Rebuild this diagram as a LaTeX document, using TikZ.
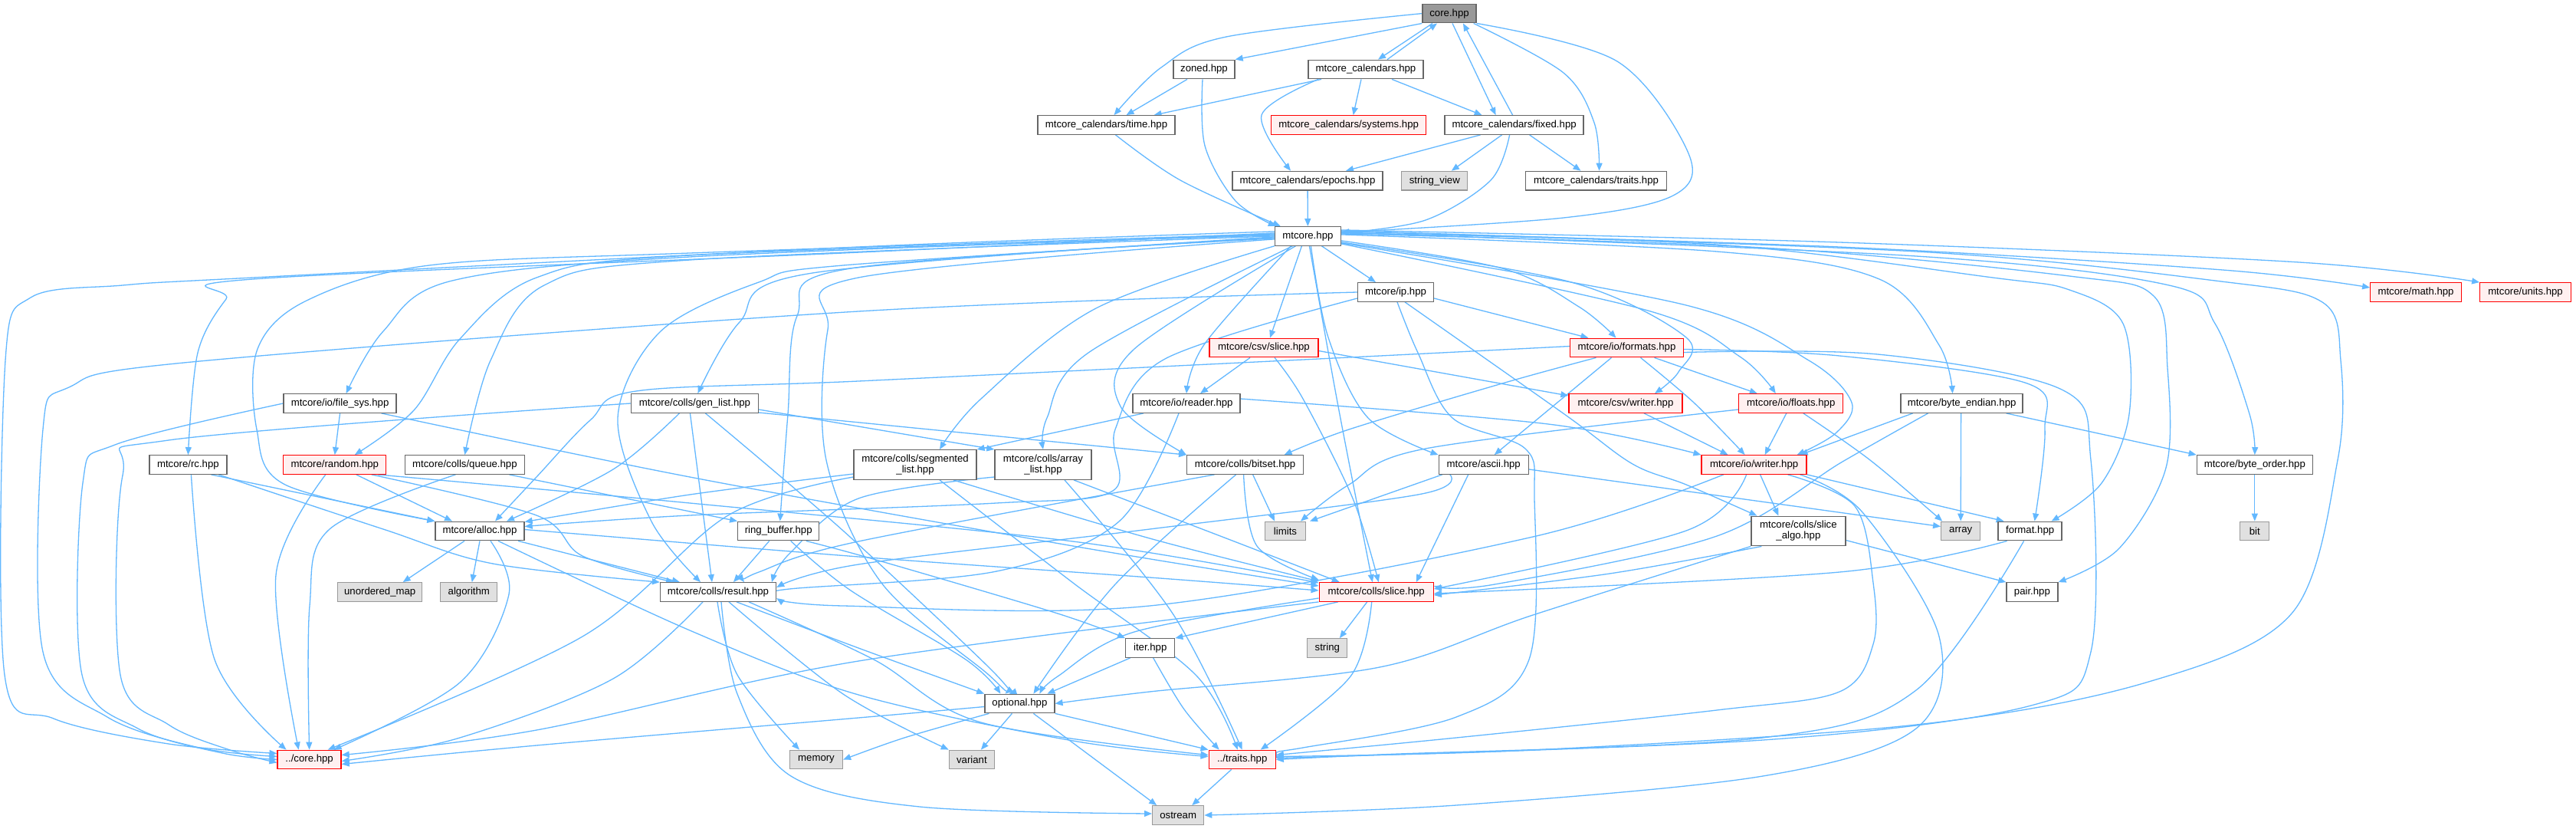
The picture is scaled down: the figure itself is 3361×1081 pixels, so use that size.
\documentclass[tikz,border=0pt]{standalone}
\usepackage{fontspec}
\setmainfont{Liberation Sans}
\usetikzlibrary{arrows.meta}
\definecolor{edgec}{HTML}{63B8FF}
\definecolor{bordc}{HTML}{666666}
\definecolor{extb}{HTML}{999999}
\definecolor{extf}{HTML}{E0E0E0}
\definecolor{redf}{HTML}{FFF0F0}
\definecolor{rootf}{HTML}{999999}
\pgfdeclarelayer{bg}
\pgfsetlayers{bg,main}
\begin{document}
\begin{tikzpicture}[x=0.5pt,y=-0.5pt,
 nbox/.style={draw=bordc, fill=white, line width=0.65pt, inner sep=0pt, minimum height=12.25pt, font=\fontsize{6.6}{7}\selectfont, align=center, text=black},
 redbox/.style={nbox, draw=red, fill=redf},
 extbox/.style={nbox, draw=extb, fill=extf},
 twol/.style={minimum height=19.3pt},
 lnk/.style={draw=edgec, line width=0.65pt, -{Triangle[length=5pt,width=4pt]}},
 sm/.style={smooth, tension=0.55}]
\useasboundingbox (0,0) rectangle (3361,1081);
% ---------- nodes ----------
\node[nbox,fill=rootf,minimum width=35pt] (core) at (1891,17.6) {core.hpp};
\node[nbox,minimum width=40pt] (zoned) at (1571,90.5) {zoned.hpp};
\node[nbox,minimum width=75pt] (cal) at (1782,90.5) {mtcore\_calendars.hpp};
\node[nbox,minimum width=89.5pt] (ctime) at (1443.5,163) {mtcore\_calendars/time.hpp};
\node[redbox,minimum width=101pt] (csys) at (1759.6,163) {mtcore\_calendars/systems.hpp};
\node[nbox,minimum width=90.5pt] (cfixed) at (1975.6,163) {mtcore\_calendars/fixed.hpp};
\node[nbox,minimum width=98pt] (cepochs) at (1706,235.6) {mtcore\_calendars/epochs.hpp};
\node[extbox,minimum width=43pt] (strview) at (1871.8,235.6) {string\_view};
\node[nbox,minimum width=92pt] (ctraits) at (2082.5,235.6) {mtcore\_calendars/traits.hpp};
\node[nbox,minimum width=43pt] (mtc) at (1706.4,307.9) {mtcore.hpp};
\node[nbox,minimum width=49.5pt] (ip) at (1821,381) {mtcore/ip.hpp};
\node[redbox,minimum width=59.25pt] (math) at (3152,381) {mtcore/math.hpp};
\node[redbox,minimum width=59.25pt] (units) at (3295,381) {mtcore/units.hpp};
\node[redbox,minimum width=71pt] (cslice) at (1649,453.5) {mtcore/csv/slice.hpp};
\node[redbox,minimum width=74pt] (formats) at (2122.5,453.5) {mtcore/io/formats.hpp};
\node[nbox,minimum width=70pt] (reader) at (1548,526) {mtcore/io/reader.hpp};
\node[redbox,minimum width=74pt] (cwriter) at (2121,526) {mtcore/csv/writer.hpp};
\node[redbox,minimum width=68pt] (floats) at (2336.8,526) {mtcore/io/floats.hpp};
\node[nbox,minimum width=79.5pt] (bendian) at (2559.6,526) {mtcore/byte\_endian.hpp};
\node[nbox,minimum width=73.5pt] (filesys) at (443.6,526) {mtcore/io/file\_sys.hpp};
\node[nbox,minimum width=83pt] (genlist) at (906.4,526) {mtcore/colls/gen\_list.hpp};
\node[nbox,minimum width=50.5pt] (rc) at (245.4,606) {mtcore/rc.hpp};
\node[redbox,minimum width=67pt] (random) at (436.8,606) {mtcore/random.hpp};
\node[nbox,minimum width=78pt] (queue) at (606.4,606) {mtcore/colls/queue.hpp};
\node[nbox,twol,minimum width=80pt] (seglist) at (1194,606) {mtcore/colls/segmented\\\_list.hpp};
\node[nbox,twol,minimum width=63pt] (arrlist) at (1361,606) {mtcore/colls/array\\\_list.hpp};
\node[nbox,minimum width=76pt] (bitset) at (1624.6,606) {mtcore/colls/bitset.hpp};
\node[nbox,minimum width=58.5pt] (ascii) at (1935.7,606) {mtcore/ascii.hpp};
\node[redbox,minimum width=68.5pt] (writer) at (2288.6,606) {mtcore/io/writer.hpp};
\node[nbox,minimum width=75.5pt] (border) at (2941.8,606) {mtcore/byte\_order.hpp};
\node[nbox,minimum width=58pt] (alloc) at (626,692.5) {mtcore/alloc.hpp};
\node[nbox,minimum width=53pt] (ringbuf) at (1015.7,692.5) {ring\_buffer.hpp};
\node[extbox,minimum width=26.5pt] (limits) at (1677,692.5) {limits};
\node[nbox,twol,minimum width=61.5pt] (salgo) at (2346.4,692.5) {mtcore/colls/slice\\\_algo.hpp};
\node[extbox,minimum width=25.5pt] (array) at (2558.2,692.5) {array};
\node[nbox,minimum width=41.5pt] (fmt) at (2648.6,692.5) {format.hpp};
\node[extbox,minimum width=19pt] (bit) at (2941.8,692.5) {bit};
\node[extbox,minimum width=55pt] (umap) at (495.7,772) {unordered\_map};
\node[extbox,minimum width=37pt] (algo) at (611.8,772) {algorithm};
\node[nbox,minimum width=75.5pt] (result) at (937,772) {mtcore/colls/result.hpp};
\node[redbox,minimum width=74.5pt] (slice) at (1795.7,772) {mtcore/colls/slice.hpp};
\node[nbox,minimum width=33.5pt] (pair) at (2651.4,772) {pair.hpp};
\node[nbox,minimum width=32pt] (iter) at (1500.7,845) {iter.hpp};
\node[extbox,minimum width=26pt] (string) at (1731.8,845) {string};
\node[nbox,minimum width=45.5pt] (optional) at (1330.4,917.5) {optional.hpp};
\node[redbox,minimum width=41.5pt] (dcore) at (403.6,990.5) {../core.hpp};
\node[extbox,minimum width=34.5pt] (memory) at (1065,990.5) {memory};
\node[extbox,minimum width=29.5pt] (variant) at (1267.9,990.5) {variant};
\node[redbox,minimum width=43.5pt] (dtraits) at (1620.7,990.5) {../traits.hpp};
\node[extbox,minimum width=33.5pt] (ostream) at (1537.2,1063) {ostream};
% ---------- edges ----------
\begin{pgfonlayer}{bg}
\fill[white] (0,0) rectangle (3361,1081);
% top part
\draw[lnk] (core.south west) -- (zoned.north east);
\draw[lnk] plot[sm] coordinates {(core.west) (1600,48) (1515,88) ([xshift=5pt]ctime.north)};
\draw[lnk] ([xshift=-11pt]core.south) -- ([xshift=8pt]cal.north);
\draw[lnk] ([xshift=14pt]cal.north) -- ([xshift=-8pt]core.south);
\draw[lnk] ([xshift=2pt]core.south) -- ([xshift=-12pt]cfixed.north);
\draw[lnk] ([xshift=-1pt]cfixed.north) -- ([xshift=9pt]core.south);
\draw[lnk] plot[sm] coordinates {([xshift=-2pt]core.south east) (2040,95) (2080,160) ([xshift=2pt]ctraits.north)};
\draw[lnk] plot[sm] coordinates {(core.south east) (2110,80) (2203,200) (2183,255) (2040,284) ([yshift=2.5pt]mtc.east)};
\draw[lnk] ([xshift=-11pt]zoned.south) -- ([xshift=13pt]ctime.north);
\draw[lnk] plot[sm] coordinates {([xshift=-1pt]zoned.south) (1572,190) (1612,262) ([xshift=1pt]mtc.north west)};
\draw[lnk] plot[sm] coordinates {([xshift=6pt]ctime.south) (1540,235) ([xshift=4pt]mtc.north west)};
\draw[lnk] ([xshift=-29pt]cal.south) -- ([xshift=31pt]ctime.north);
\draw[lnk] ([xshift=-3pt]cal.south) -- ([xshift=3pt]csys.north);
\draw[lnk] ([xshift=17pt]cal.south) -- ([xshift=-21pt]cfixed.north);
\draw[lnk] plot[sm] coordinates {([xshift=-31pt]cal.south) (1646,150) ([xshift=-11pt]cepochs.north)};
\draw[lnk] ([xshift=-22pt]cfixed.south) -- ([xshift=25pt]cepochs.north);
\draw[lnk] ([xshift=-8pt]cfixed.south) -- ([xshift=11pt]strview.north);
\draw[lnk] ([xshift=10pt]cfixed.south) -- ([xshift=-10pt]ctraits.north);
\draw[lnk] plot[sm] coordinates {([xshift=-3pt]cfixed.south) (1945,235) (1860,287) ([yshift=2pt]mtc.east)};
\draw[lnk] (cepochs) -- (mtc);
% mtcore.hpp outgoing
\draw[lnk] ([xshift=9pt]mtc.south) -- ([xshift=-13pt]ip.north);
\draw[lnk] ([xshift=-4pt]mtc.south) -- ([xshift=4pt]cslice.north);
\draw[lnk] plot[sm] coordinates {([xshift=-11pt]mtc.south) (1572,448) (reader.north)};
\draw[lnk] plot[sm] coordinates {([yshift=-3pt]mtc.east) (1960,350) (2060,400) ([xshift=-7pt]formats.north)};
\draw[lnk] plot[sm] coordinates {([yshift=-4pt]mtc.east) (2050,368) (2200,440) (2190,485) ([xshift=19pt]cwriter.north)};
\draw[lnk] plot[sm] coordinates {([yshift=-5pt]mtc.east) (2150,405) (2270,465) ([xshift=-10pt]floats.north)};
\draw[lnk] plot[sm] coordinates {([yshift=-4.5pt]mtc.east) (2200,398) (2360,470) (2416,525) (2395,565) ([xshift=28pt]writer.north)};
\draw[lnk] plot[sm] coordinates {([xshift=2pt]mtc.south) (1733,440) (1785,545) (ascii.north west)};
\draw[lnk] plot[sm] coordinates {([xshift=1pt]mtc.south) (1746,530) ([xshift=-2.5pt]slice.north)};
\draw[lnk] plot[sm] coordinates {([xshift=-8pt]mtc.south) (1480,455) (1462,530) (bitset.north west)};
\draw[lnk] plot[sm] coordinates {([xshift=-10pt]mtc.south) (1420,460) (1366,545) (arrlist.north)};
\draw[lnk] plot[sm] coordinates {(mtc.south west) (1430,402) (1280,520) ([xshift=16pt]seglist.north)};
\draw[lnk] plot[sm] coordinates {([yshift=3pt]mtc.west) (1120,322) (330,362) (160,372) (40,388) (7,470) (6,880) (70,937) (220,970) ([yshift=4pt]dcore.west)};
\draw[lnk] plot[sm] coordinates {([yshift=2pt]mtc.west) (1100,330) (330,364) (295,390) (258,460) (rc.north)};
\draw[lnk] plot[sm] coordinates {([yshift=1.5pt]mtc.west) (900,330) (560,346) (400,392) (336,455) (335,560) (372,632) (alloc.north west)};
\draw[lnk] plot[sm] coordinates {([yshift=1pt]mtc.west) (900,335) (590,366) (500,432) ([xshift=4pt]filesys.north)};
\draw[lnk] plot[sm] coordinates {([yshift=0.5pt]mtc.west) (900,333) (700,362) (600,442) (540,535) ([xshift=13pt]random.north)};
\draw[lnk] plot[sm] coordinates {(mtc.west) (900,339) (710,372) (640,470) (queue.north)};
\draw[lnk] plot[sm] coordinates {([yshift=-0.5pt]mtc.west) (1060,356) (965,420) ([xshift=2pt]genlist.north)};
\draw[lnk] plot[sm] coordinates {([yshift=-1pt]mtc.west) (1100,346) (990,368) (862,432) (806,545) (850,680) ([xshift=-11.5pt]result.north)};
\draw[lnk] plot[sm] coordinates {([yshift=-1.5pt]mtc.west) (1110,350) (1040,412) (1028,540) ([xshift=1pt]ringbuf.north)};
\draw[lnk] plot[sm] coordinates {([yshift=-2pt]mtc.west) (1120,362) (1080,430) (1078,600) (1150,760) (1290,880) ([xshift=-9.5pt]optional.north)};
\draw[lnk] plot[sm] coordinates {([yshift=3pt]mtc.east) (2400,322) (2900,352) ([yshift=3pt]math.west)};
\draw[lnk] plot[sm] coordinates {([yshift=4pt]mtc.east) (2400,316) (3000,342) (units.north west)};
\draw[lnk] plot[sm] coordinates {([yshift=1pt]mtc.east) (2240,328) (2452,364) (2530,450) ([xshift=-6pt]bendian.north)};
\draw[lnk] plot[sm] coordinates {([yshift=2pt]mtc.east) (2240,319) (2600,362) (2700,378) (2770,422) (2778,540) (2742,630) ([xshift=14pt]fmt.north)};
\draw[lnk] plot[sm] coordinates {([yshift=1.5pt]mtc.east) (2300,323) (2700,360) (2810,386) (2828,480) (2826,610) (2765,715) (pair.north east)};
\draw[lnk] plot[sm] coordinates {([yshift=2.5pt]mtc.east) (2500,334) (2830,372) (2890,422) (2935,540) (border.north)};
\draw[lnk] plot[sm] coordinates {([yshift=3.5pt]mtc.east) (2500,328) (2890,366) (3030,394) (3054,470) (3050,600) (2990,800) (2800,890) (2500,945) (2000,978) ([yshift=2pt]dtraits.east)};
% ip
\draw[lnk] plot[sm] coordinates {(ip.west) (1120,406) (250,472) (90,505) (56,560) (56,850) (140,935) (260,975) ([yshift=2pt]dcore.west)};
\draw[lnk] plot[sm] coordinates {([yshift=-4pt]ip.west) (1520,468) (1455,560) (1452,640) (1300,656) (900,672) ([yshift=3pt]alloc.east)};
\draw[lnk] ([yshift=-4pt]ip.east) -- ([xshift=-25pt]formats.north);
\draw[lnk] plot[sm] coordinates {([xshift=1pt]ip.south) (1850,460) (1895,545) (1990,585) (2002,650) (1995,860) (1900,935) (1700,975) (dtraits.north east)};
\draw[lnk] plot[sm] coordinates {([xshift=6pt]ip.south) (2041,540) (2130,605) (2200,632) ([xshift=-27pt]salgo.north)};
% csv/slice
\draw[lnk] ([xshift=-9pt]cslice.south) -- ([xshift=9pt]reader.north);
\draw[lnk] plot[sm] coordinates {([xshift=7pt]cslice.south) (1700,520) (1765,650) ([xshift=1.5pt]slice.north)};
\draw[lnk] ([yshift=-2pt]cslice.east) -- ([yshift=5pt]cwriter.west);
% formats
\draw[lnk] plot[sm] coordinates {([yshift=1pt]formats.west) (1700,469) (1120,497) (830,510) (770,548) (700,622) ([xshift=10pt]alloc.north)};
\draw[lnk] plot[sm] coordinates {([xshift=-20pt]formats.south) (1960,500) (1760,560) ([xshift=25.5pt]bitset.north)};
\draw[lnk] ([xshift=-10pt]formats.south) -- ([xshift=7pt]ascii.north);
\draw[lnk] plot[sm] coordinates {([xshift=9pt]formats.south) (2210,525) ([xshift=-6pt]writer.north)};
\draw[lnk] ([xshift=18pt]formats.south) -- ([xshift=-22pt]floats.north);
\draw[lnk] plot[sm] coordinates {([yshift=-1pt]formats.east) (2400,464) (2645,500) (2668,560) ([xshift=3pt]fmt.north)};
\draw[lnk] plot[sm] coordinates {([yshift=-3pt]formats.east) (2450,462) (2690,508) (2728,600) (2728,850) (2650,920) (2300,965) ([yshift=1pt]dtraits.east)};
% writers / floats / byte_endian
\draw[lnk] ([xshift=12pt]cwriter.south) -- ([xshift=-17pt]writer.north);
\draw[lnk] ([xshift=-3pt]floats.south) -- ([xshift=7pt]writer.north);
\draw[lnk] plot[sm] coordinates {([yshift=-4pt]floats.west) (1860,585) (1760,632) ([xshift=10pt]limits.north)};
\draw[lnk] plot[sm] coordinates {([xshift=8pt]floats.south) (2440,600) ([xshift=-12pt]array.north)};
\draw[lnk] ([xshift=-32pt]bendian.south) -- ([xshift=30pt]writer.north);
\draw[lnk] ([xshift=-0.5pt]bendian.south) -- (array.north);
\draw[lnk] ([xshift=29pt]bendian.south) -- (border.north west);
\draw[lnk] plot[sm] coordinates {([xshift=-22pt]bendian.south) (2404,602) (2240,699) (1950,762) ([yshift=4pt]slice.east)};
\draw[lnk] (border.south) -- (bit.north);
% file_sys / random / rc / queue / gen_list
\draw[lnk] plot[sm] coordinates {(filesys.west) (150,580) (108,630) (107,880) (180,950) (290,982) (dcore.west)};
\draw[lnk] (filesys.south) -- (random.north);
\draw[lnk] plot[sm] coordinates {([xshift=27pt]filesys.south) (900,622) (1400,712) ([yshift=4pt]slice.west)};
\draw[lnk] plot[sm] coordinates {([xshift=-6pt]random.south) (360,750) ([xshift=-7pt]dcore.north)};
\draw[lnk] ([xshift=14pt]random.south) -- ([xshift=-18pt]alloc.north);
\draw[lnk] plot[sm] coordinates {([xshift=24pt]random.south) (700,672) (760,725) ([xshift=-29pt]result.north)};
\draw[lnk] plot[sm] coordinates {([xshift=28pt]random.south) (900,656) (1400,706) ([yshift=6pt]slice.west)};
\draw[lnk] plot[sm] coordinates {([xshift=2pt]rc.south) (280,860) ([xshift=-15pt]dcore.north)};
\draw[lnk] ([xshift=15pt]rc.south) -- (alloc.north west);
\draw[lnk] plot[sm] coordinates {([xshift=20pt]rc.south) (500,690) (643,735) (result.north west)};
\draw[lnk] plot[sm] coordinates {([xshift=-6pt]queue.south) (430,690) (404,790) (dcore.north)};
\draw[lnk] ([xshift=29pt]queue.south) -- (ringbuf.north west);
\draw[lnk] plot[sm] coordinates {(genlist.west) (220,574) (160,620) (157,880) (220,945) (300,978) ([yshift=-2pt]dcore.west)};
\draw[lnk] plot[sm] coordinates {([xshift=-10pt]genlist.south) (800,612) ([xshift=17.5pt]alloc.north)};
\draw[lnk] ([xshift=-3pt]genlist.south) -- ([xshift=-4pt]result.north);
\draw[lnk] plot[sm] coordinates {([xshift=7pt]genlist.south) (1100,692) (1290,870) ([xshift=-7pt]optional.north)};
\draw[lnk] ([yshift=-4pt]genlist.east) -- (arrlist.north west);
\draw[lnk] ([yshift=-6pt]genlist.east) -- (bitset.north west);
% reader
\draw[lnk] ([xshift=-28pt]reader.south) -- (seglist.north east);
\draw[lnk] plot[sm] coordinates {([yshift=3pt]reader.east) (2020,553) (writer.north west)};
\draw[lnk] plot[sm] coordinates {([xshift=-5pt]reader.south) (1460,680) (1300,745) (1030,768) ([yshift=-2pt]result.east)};
% lists / bitset / ascii
\draw[lnk] plot[sm] coordinates {([yshift=-6pt]seglist.west) (900,645) ([yshift=6pt]alloc.east)};
\draw[lnk] plot[sm] coordinates {([xshift=25pt]seglist.south) (1500,702) ([yshift=7pt]slice.west)};
\draw[lnk] plot[sm] coordinates {([xshift=16pt]seglist.south) (1400,760) (1560,880) ([xshift=-3pt]dtraits.north)};
\draw[lnk] plot[sm] coordinates {([yshift=-8pt]seglist.west) (950,672) (760,830) ([xshift=12pt]dcore.north)};
\draw[lnk] plot[sm] coordinates {([xshift=20pt]arrlist.south) (1600,702) ([xshift=-24pt]slice.north)};
\draw[lnk] plot[sm] coordinates {([xshift=14pt]arrlist.south) (1530,800) (dtraits.north)};
\draw[lnk] plot[sm] coordinates {([yshift=-8pt]arrlist.west) (1120,650) (1030,722) ([xshift=35pt]result.north)};
\draw[lnk] plot[sm] coordinates {([xshift=-20pt]bitset.south) (1120,706) (990,746) ([xshift=17pt]result.north)};
\draw[lnk] plot[sm] coordinates {([xshift=-6pt]bitset.south) (1455,762) ([xshift=9pt]optional.north)};
\draw[lnk] plot[sm] coordinates {([xshift=-1pt]bitset.south) (1640,712) ([yshift=8pt]slice.west)};
\draw[lnk] ([xshift=5pt]bitset.south) -- ([xshift=-7pt]limits.north);
\draw[lnk] ([xshift=-27pt]ascii.south) -- ([xshift=16pt]limits.north);
\draw[lnk] ([xshift=-10pt]ascii.south) -- ([xshift=26pt]slice.north);
\draw[lnk] plot[sm] coordinates {([xshift=-22pt]ascii.south) (1850,645) (1500,690) (1120,736) ([yshift=3pt]result.east)};
\draw[lnk] ([yshift=-3pt]ascii.east) -- ([yshift=3pt]array.west);
% io/writer
\draw[lnk] plot[sm] coordinates {([xshift=-20pt]writer.south) (2000,700) (1500,790) (1100,790) ([yshift=-4pt]result.east)};
\draw[lnk] plot[sm] coordinates {([xshift=-5pt]writer.south) (2200,692) ([yshift=2pt]slice.east)};
\draw[lnk] ([xshift=4pt]writer.south) -- ([xshift=-13pt]salgo.north);
\draw[lnk] (writer.south east) -- ([xshift=-17pt]fmt.north);
\draw[lnk] plot[sm] coordinates {([xshift=22pt]writer.south) (2420,660) (2444,760) (2444,840) (2400,902) (2240,926) (1900,962) ([yshift=3pt]dtraits.east)};
\draw[lnk] plot[sm] coordinates {([xshift=30pt]writer.south) (2430,668) (2530,830) (2500,950) (2300,1012) (1900,1050) (ostream.east)};
% slice_algo / format
\draw[lnk] ([yshift=-6pt]salgo.east) -- (pair.north west);
\draw[lnk] plot[sm] coordinates {(salgo.south west) (2000,802) (1800,870) (1500,902) (optional.east)};
\draw[lnk] plot[sm] coordinates {([xshift=-24pt]salgo.south) (2100,748) ([yshift=-2pt]slice.east)};
\draw[lnk] plot[sm] coordinates {([xshift=-15pt]fmt.south) (2400,746) ([yshift=-1pt]slice.east)};
\draw[lnk] plot[sm] coordinates {([xshift=-4pt]fmt.south) (2500,900) (2300,962) (1800,984) (dtraits.east)};
% alloc / ring_buffer / result
\draw[lnk] ([xshift=-10pt]alloc.south) -- ([xshift=15pt]umap.north);
\draw[lnk] (alloc.south) -- ([xshift=2pt]algo.north);
\draw[lnk] plot[sm] coordinates {([xshift=7pt]alloc.south) (664,775) (600,890) ([xshift=16pt]dcore.north)};
\draw[lnk] ([xshift=25pt]alloc.south) -- ([xshift=-25pt]result.north);
\draw[lnk] plot[sm] coordinates {([yshift=1pt]alloc.east) (1120,726) (1500,753) ([yshift=1pt]slice.west)};
\draw[lnk] plot[sm] coordinates {([xshift=12pt]alloc.south) (900,822) (1120,906) (1400,966) ([yshift=2pt]dtraits.west)};
\draw[lnk] ([xshift=-6pt]ringbuf.south) -- ([xshift=10pt]result.north);
\draw[lnk] plot[sm] coordinates {([xshift=8pt]ringbuf.south) (1110,770) (1260,860) ([xshift=-12.5pt]optional.north)};
\draw[lnk] plot[sm] coordinates {([xshift=18pt]ringbuf.south) (1150,732) (1380,800) (iter.north west)};
\draw[lnk] plot[sm] coordinates {([xshift=-10pt]result.south) (800,885) (600,962) ([yshift=-1pt]dcore.east)};
\draw[lnk] plot[sm] coordinates {([xshift=-0.5pt]result.south) (962,880) ([xshift=-11pt]memory.north)};
\draw[lnk] plot[sm] coordinates {([xshift=2pt]result.south) (962,905) (1032,1012) (1200,1052) ([yshift=1pt]ostream.west)};
\draw[lnk] plot[sm] coordinates {([xshift=12pt]result.south) (1120,845) (optional.north west)};
\draw[lnk] plot[sm] coordinates {([xshift=7pt]result.south) (1100,905) (variant.north west)};
\draw[lnk] plot[sm] coordinates {([xshift=20pt]result.south) (1140,860) (1280,942) ([yshift=3pt]dtraits.west)};
% slice / iter / optional / traits
\draw[lnk] ([xshift=-6pt]slice.south) -- ([xshift=8pt]string.north);
\draw[lnk] ([xshift=-25pt]slice.south) -- (iter.north east);
\draw[lnk] plot[sm] coordinates {([yshift=-4pt]slice.west) (1480,824) (1380,882) ([xshift=13pt]optional.north)};
\draw[lnk] plot[sm] coordinates {(slice.south west) (1120,862) (700,952) ([yshift=3pt]dcore.east)};
\draw[lnk] plot[sm] coordinates {([xshift=-3pt]slice.south) (1762,882) ([xshift=12pt]dtraits.north)};
\draw[lnk] ([xshift=-13pt]iter.south) -- ([xshift=18pt]optional.north);
\draw[lnk] plot[sm] coordinates {([xshift=2pt]iter.south) (1545,925) ([xshift=-15pt]dtraits.north)};
\draw[lnk] plot[sm] coordinates {([yshift=-2pt]optional.west) (1120,936) (700,972) ([yshift=-3pt]dcore.east)};
\draw[lnk] plot[sm] coordinates {([xshift=-20pt]optional.south) (1180,962) (memory.east)};
\draw[lnk] ([xshift=-5pt]optional.south) -- ([xshift=6pt]variant.north);
\draw[lnk] (optional.south east) -- (dtraits.north west);
\draw[lnk] ([xshift=9pt]optional.south) -- ([xshift=-14pt]ostream.north);
\draw[lnk] ([xshift=-7pt]dtraits.south) -- ([xshift=9pt]ostream.north);
\end{pgfonlayer}
\end{tikzpicture}
\end{document}
